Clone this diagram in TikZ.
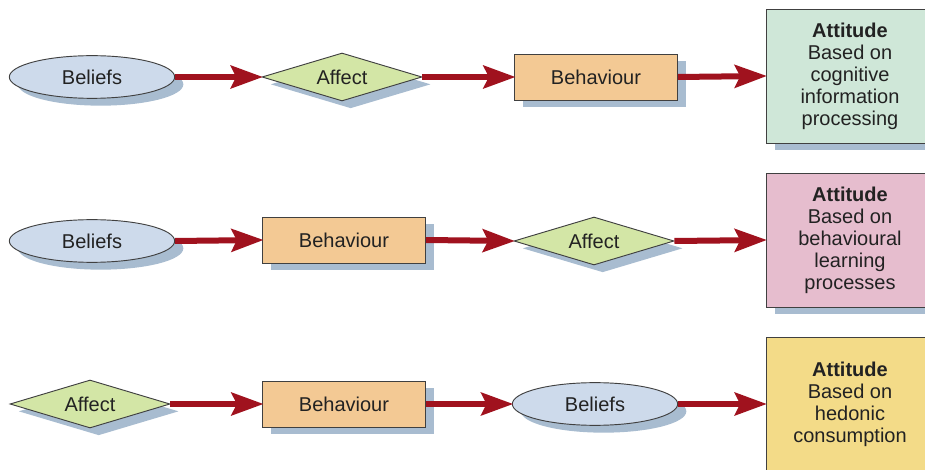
\documentclass[tikz,border=0pt]{standalone}
\usepackage{fontspec}
\setmainfont{Liberation Sans}
\usetikzlibrary{shapes.geometric,shadows,arrows.meta}
\definecolor{belc}{HTML}{CDDAEB}
\definecolor{affc}{HTML}{D3E6A6}
\definecolor{behc}{HTML}{F3C994}
\definecolor{attA}{HTML}{CFE7D8}
\definecolor{attB}{HTML}{E6BDCE}
\definecolor{attC}{HTML}{F3DB88}
\definecolor{shadc}{HTML}{A8BCD0}
\definecolor{arrc}{HTML}{A0121E}
\definecolor{txtc}{HTML}{222222}
\begin{document}
\begin{tikzpicture}[x=0.75pt,y=-0.75pt,
  shad/.style={drop shadow={shadow xshift=6.5pt,shadow yshift=-5.5pt,fill=shadc,opacity=1}},
  base/.style={draw=black!75,line width=0.7pt,text=txtc,inner sep=0pt,
    font=\fontsize{15}{18}\selectfont,shad},
  bel/.style={base,ellipse,fill=belc,minimum width=124pt,minimum height=32pt},
  aff/.style={base,diamond,aspect=3.33,fill=affc,minimum width=120pt,minimum height=36pt},
  beh/.style={base,rectangle,fill=behc,minimum width=122pt,minimum height=34.5pt},
  att/.style={base,rectangle,minimum width=126pt,minimum height=100.5pt,align=center,
    font=\fontsize{15}{16.5}\selectfont},
  arr/.style={draw=arrc,line width=4.5pt,-{Stealth[length=24pt,width=17pt,inset=4pt]},shorten >=-1pt}]
\useasboundingbox (0,0) rectangle (925,470);
\clip (0,0) rectangle (925,470);
% row 1
\node[bel] (bel1) at (92,77) {Beliefs};
\node[aff] (aff1) at (342,77) {Affect};
\node[beh] (beh1) at (596,77) {Behaviour};
\node[att,fill=attA] (att1) at (850,76) {\textbf{Attitude}\\Based on\\cognitive\\information\\processing};
% row 2
\node[bel] (bel2) at (92,241) {Beliefs};
\node[beh] (beh2) at (344,240) {Behaviour};
\node[aff] (aff2) at (594,241) {Affect};
\node[att,fill=attB] (att2) at (850,240) {\textbf{Attitude}\\Based on\\behavioural\\learning\\processes};
% row 3
\node[aff] (aff3) at (90,404) {Affect};
\node[beh] (beh3) at (344,404) {Behaviour};
\node[bel] (bel3) at (595,404) {Beliefs};
\node[att,fill=attC] (att3) at (850,404) {\textbf{Attitude}\\Based on\\hedonic\\consumption};
% arrows
\draw[arr] (bel1.east) -- (aff1.west);
\draw[arr] (aff1.east) -- (beh1.west);
\draw[arr] (beh1.east) -- (att1.west);
\draw[arr] (bel2.east) -- (beh2.west);
\draw[arr] (beh2.east) -- (aff2.west);
\draw[arr] (aff2.east) -- (att2.west);
\draw[arr] (aff3.east) -- (beh3.west);
\draw[arr] (beh3.east) -- (bel3.west);
\draw[arr] (bel3.east) -- (att3.west);
\end{tikzpicture}
\end{document}
